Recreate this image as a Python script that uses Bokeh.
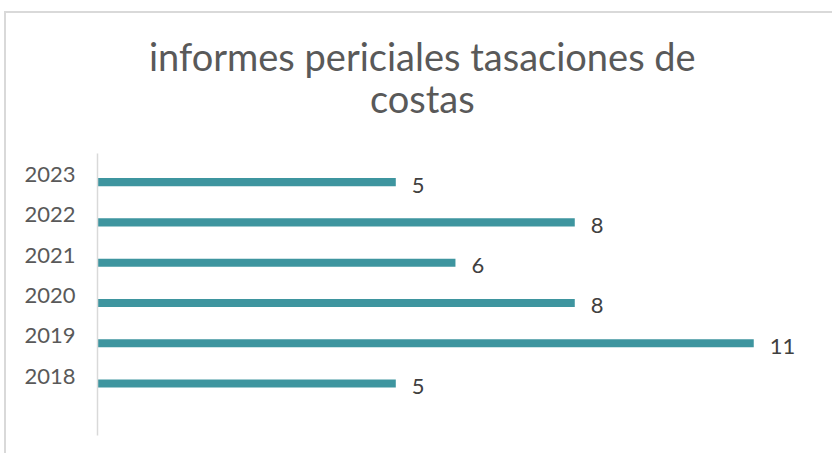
from bokeh.plotting import figure
from bokeh.layouts import column
from bokeh.models import FactorRange, Range1d, ColumnDataSource
from bokeh.transform import dodge
from bokeh.core.properties import value
from bokeh.embed import file_html
from bokeh.resources import INLINE

# data
years = ["2018", "2019", "2020", "2021", "2022", "2023"]
counts = [5, 11, 8, 6, 8, 5]
title_lines = ["informes periciales tasaciones de", "costas"]

BAR = "#3e959f"
FONT = "Lato"
W = 826
TH = 140  # title band height in px

# ---- title band (its own small canvas, pixel coordinates) ----
t = figure(width=W, height=TH, x_range=Range1d(0, W), y_range=Range1d(0, TH),
           output_backend="svg", toolbar_location=None,
           min_border_left=0, min_border_right=0, min_border_top=0, min_border_bottom=0)
t.axis.visible = False
t.grid.visible = False
t.outline_line_color = None
tsrc = ColumnDataSource(dict(x=[365, 365], y=[98, 56], txt=title_lines))
t.text(x="x", y="y", text="txt", source=tsrc, text_align="center", text_baseline="alphabetic",
       text_font=value(FONT), text_font_size="38px", text_color="#595959")

# ---- bar chart ----
factors = [" "] + years  # empty category at the bottom
src = ColumnDataSource(dict(year=years, n=counts, lab=[str(c) for c in counts]))

p = figure(width=W, height=300, y_range=FactorRange(factors=factors, range_padding=0),
           x_range=Range1d(0, 12.32), output_backend="svg", toolbar_location=None,
           min_border_left=91, min_border_top=0, min_border_right=0, min_border_bottom=18)

p.hbar(y=dodge("year", -0.21, range=p.y_range), right="n", height=0.2, source=src,
       fill_color=BAR, line_color=None)

p.text(x="n", y=dodge("year", -0.21, range=p.y_range), text="lab", source=src,
       x_offset=16, y_offset=3, text_baseline="middle", text_align="left",
       text_font=value(FONT), text_font_size="22px", text_color="#404040")

p.xaxis.visible = False
p.xgrid.visible = False
p.ygrid.visible = False
p.outline_line_color = None

ax = p.yaxis[0]
ax.axis_line_color = "#d9d9d9"
ax.axis_line_width = 1.5
ax.major_tick_line_color = None
ax.minor_tick_line_color = None
ax.major_tick_out = 0
ax.major_tick_in = 0
ax.major_label_standoff = 22
ax.major_label_text_font = FONT
ax.major_label_text_font_size = "22px"
ax.major_label_text_color = "#595959"

layout = column(t, p, spacing=0)
layout.styles = {"margin-top": "11px", "margin-left": "4px",
                 "border-top": "2px solid #d9d9d9", "border-left": "2px solid #d9d9d9"}

open("out.html", "w").write(file_html(layout, INLINE))
